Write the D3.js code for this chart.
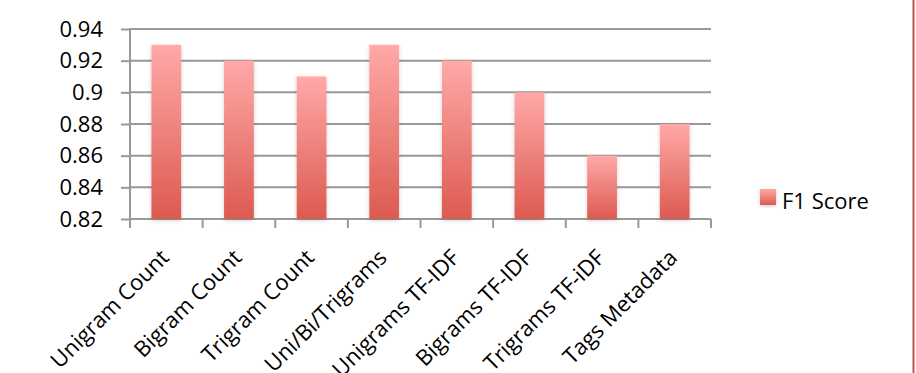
<!DOCTYPE html>
<html>
<head>
<meta charset="utf-8">
<script src="https://cdn.jsdelivr.net/npm/d3@7"></script>
<style>
  body { margin: 0; background: #fff; }
  svg text { font-family: "Open Sans", "DejaVu Sans", sans-serif; fill: #000; }
</style>
</head>
<body>
<svg width="916" height="373"></svg>
<script>
// chart data
var categories = ["Unigram Count", "Bigram Count", "Trigram Count", "Uni/Bi/Trigrams",
                  "Unigrams TF-IDF", "Bigrams TF-IDF", "Trigrams TF-iDF", "Tags Metadata"];
var f1Scores = [0.93, 0.92, 0.91, 0.93, 0.92, 0.90, 0.86, 0.88];
var yTicks = [0.82, 0.84, 0.86, 0.88, 0.9, 0.92, 0.94];
var seriesName = "F1 Score";

var svg = d3.select("svg"),
    width = +svg.attr("width"),
    height = +svg.attr("height");

var plotL = 130, plotR = 711, plotT = 29, plotB = 219;
var fontSize = "22px";

var x = d3.scaleBand()
    .domain(categories)
    .range([plotL, plotR])
    .paddingInner(0.59)
    .paddingOuter(0.295);

var y = d3.scaleLinear()
    .domain([0.82, 0.94])
    .range([plotB, plotT]);

var defs = svg.append("defs");
var grad = defs.append("linearGradient")
    .attr("id", "barGrad")
    .attr("x1", 0).attr("y1", 0).attr("x2", 0).attr("y2", 1);
grad.append("stop").attr("offset", "0%").attr("stop-color", "#ffa9a8");
grad.append("stop").attr("offset", "100%").attr("stop-color", "#dc5a50");

var shadow = defs.append("filter")
    .attr("id", "shadow")
    .attr("x", "-30%").attr("y", "-10%").attr("width", "160%").attr("height", "125%");
shadow.append("feDropShadow")
    .attr("dx", 0).attr("dy", 1.5)
    .attr("stdDeviation", 2)
    .attr("flood-color", "#000")
    .attr("flood-opacity", 0.18);

// gridlines
svg.append("g")
  .selectAll("line")
  .data(yTicks)
  .enter().append("line")
    .attr("x1", plotL)
    .attr("x2", plotR)
    .attr("y1", function(d) { return y(d); })
    .attr("y2", function(d) { return y(d); })
    .attr("stroke", "#999")
    .attr("stroke-width", 2);

// y axis
var yAxis = svg.append("g")
    .attr("transform", "translate(" + plotL + ",0)")
    .call(d3.axisLeft(y)
      .tickValues(yTicks)
      .tickSize(9)
      .tickPadding(18)
      .tickFormat(function(d) { return d3.format("~g")(d); }));
yAxis.select(".domain").remove();
yAxis.selectAll(".tick line").attr("stroke", "#999").attr("stroke-width", 2);
yAxis.selectAll(".tick text")
    .attr("font-size", fontSize)
    .attr("font-family", null)
    .attr("fill", "#000");

svg.append("line")
    .attr("x1", plotL).attr("x2", plotL)
    .attr("y1", plotT - 1).attr("y2", plotB + 9)
    .attr("stroke", "#999")
    .attr("stroke-width", 2);

// x ticks between categories
var xTickPos = categories.map(function(d) { return x(d) - x.step() * x.paddingInner() / 2; })
    .concat([plotR]);
svg.append("g")
  .selectAll("line")
  .data(xTickPos)
  .enter().append("line")
    .attr("x1", function(d) { return d; })
    .attr("x2", function(d) { return d; })
    .attr("y1", plotB)
    .attr("y2", plotB + 9)
    .attr("stroke", "#999")
    .attr("stroke-width", 2);

// bars
svg.append("g")
  .selectAll("rect")
  .data(f1Scores)
  .enter().append("rect")
    .attr("x", function(d, i) { return x(categories[i]); })
    .attr("width", x.bandwidth())
    .attr("y", function(d) { return y(d); })
    .attr("height", function(d) { return y(0.82) - y(d); })
    .attr("fill", "url(#barGrad)")
    .attr("filter", "url(#shadow)");

// x labels
svg.append("g")
  .selectAll("text")
  .data(categories)
  .enter().append("text")
    .attr("transform", function(d) {
      return "translate(" + (x(d) + x.bandwidth() / 2 + 4) + "," + 259 + ") rotate(-45)";
    })
    .attr("text-anchor", "end")
    .attr("font-size", fontSize)
    .text(function(d) { return d; });

// legend
var legend = svg.append("g").attr("transform", "translate(760,189)");
legend.append("rect")
    .attr("width", 16)
    .attr("height", 16)
    .attr("fill", "url(#barGrad)")
    .attr("filter", "url(#shadow)");
legend.append("text")
    .attr("x", 22)
    .attr("y", 20)
    .attr("font-size", fontSize)
    .text(seriesName);

// frame edge on the right
svg.append("line")
    .attr("x1", 913.5).attr("x2", 913.5)
    .attr("y1", 0).attr("y2", height)
    .attr("stroke", "#c0504d")
    .attr("stroke-width", 2);
</script>
</body>
</html>
